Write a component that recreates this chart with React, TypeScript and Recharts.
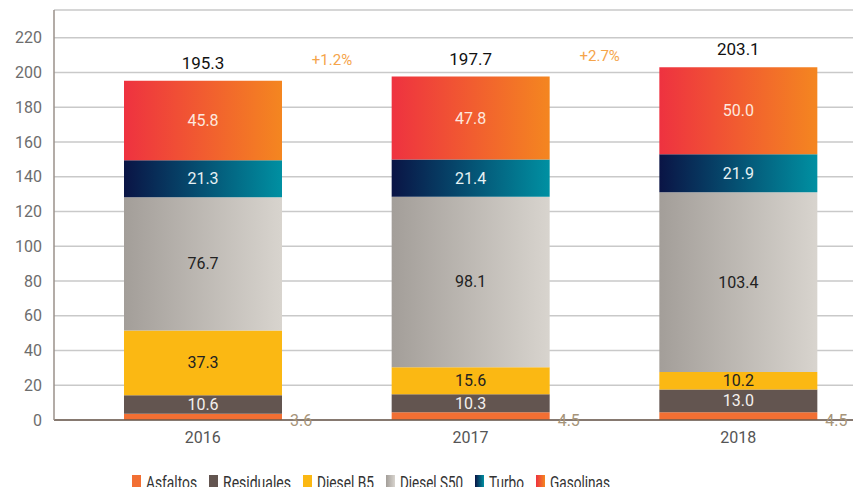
import React from "react";
import { BarChart, Bar, XAxis, YAxis, CartesianGrid, Legend, LabelList } from "recharts";

const years = ["2016", "2017", "2018"];
const asfaltos = [3.6, 4.5, 4.5];
const residuales = [10.6, 10.3, 13.0];
const dieselB5 = [37.3, 15.6, 10.2];
const dieselS50 = [76.7, 98.1, 103.4];
const turbo = [21.3, 21.4, 21.9];
const gasolinas = [45.8, 47.8, 50.0];
const totals = ["195.3", "197.7", "203.1"];
const growth = ["+1.2%", "+2.7%", ""];
const yTicks = [0, 20, 40, 60, 80, 100, 120, 140, 160, 180, 200, 220];
const seriesNames = ["Asfaltos", "Residuales", "Diesel B5", "Diesel S50", "Turbo", "Gasolinas"];

const data = years.map((y, i) => ({
  year: y,
  asfaltos: asfaltos[i],
  residuales: residuales[i],
  dieselB5: dieselB5[i],
  dieselS50: dieselS50[i],
  turbo: turbo[i],
  gasolinas: gasolinas[i],
  total: totals[i],
  growth: growth[i],
}));

const FONT = "Roboto, 'DejaVu Sans', sans-serif";

// legend layout (style only)
const legendFills = ["#f26f33", "#635550", "#fbb813", "url(#lgS50)", "url(#lgTurbo)", "url(#lgGas)"];
const legendTextWidths = [51, 68, 57, 63, 35, 60];
const legendGap = 12;
const legendIcon = 9;
const legendStart = 132;

const renderLegend = () => {
  let x = legendStart;
  const items = seriesNames.map((name, i) => {
    const ix = x;
    const tx = ix + legendIcon + 5;
    x = tx + legendTextWidths[i] + legendGap;
    return (
      <g key={name}>
        <rect x={ix} y={25} width={legendIcon} height={13} fill={legendFills[i]} />
        <text x={tx} y={32} dominantBaseline="central" fontSize={18} fontFamily={FONT} fill="#333" textLength={legendTextWidths[i]} lengthAdjust="spacingAndGlyphs">
          {name}
        </text>
      </g>
    );
  });
  return (
    <svg width={861} height={45} style={{ display: "block" }}>
      <defs>
        <linearGradient id="lgS50" x1="0" y1="0" x2="1" y2="0">
          <stop offset="0%" stopColor="#a39e99" />
          <stop offset="100%" stopColor="#d8d4ce" />
        </linearGradient>
        <linearGradient id="lgTurbo" x1="0" y1="0" x2="1" y2="0">
          <stop offset="0%" stopColor="#0a1445" />
          <stop offset="100%" stopColor="#0090a2" />
        </linearGradient>
        <linearGradient id="lgGas" x1="0" y1="0" x2="1" y2="0">
          <stop offset="0%" stopColor="#ee3240" />
          <stop offset="100%" stopColor="#f48620" />
        </linearGradient>
      </defs>
      {items}
    </svg>
  );
};

const makeCenterLabel = (color: string) => (props: any) => {
  const { x, y, width, height, value } = props;
  return (
    <text x={x + width / 2} y={y + height / 2} textAnchor="middle" dominantBaseline="central" fill={color} fontSize={16} fontFamily={FONT}>
      {Number(value).toFixed(1)}
    </text>
  );
};

const asfaltosLabel = (props: any) => {
  const { x, y, width, height, value } = props;
  return (
    <text x={x + width + 8} y={y + height} textAnchor="start" dominantBaseline="central" fill="#a69479" fontSize={16} fontFamily={FONT}>
      {Number(value).toFixed(1)}
    </text>
  );
};

const topLabel = (props: any) => {
  const { x, y, width, index } = props;
  const t = totals[index];
  const g = growth[index];
  return (
    <g>
      <text x={x + width / 2} y={y - 18} textAnchor="middle" dominantBaseline="central" fill="#111" fontSize={17} fontFamily={FONT}>
        {t}
      </text>
      {g ? (
        <text x={x + width + 50} y={y - 21} textAnchor="middle" dominantBaseline="central" fill="#f5a44a" fontSize={15} fontFamily={FONT}>
          {g}
        </text>
      ) : null}
    </g>
  );
};

export default function App() {
  return (
    <div style={{ margin: -8, width: 861, height: 495, overflow: "hidden", position: "relative" }}>
      <BarChart width={874} height={495} data={data} margin={{ top: 10, right: 2, left: 0, bottom: 0 }}>
        <defs>
          <linearGradient id="gS50" x1="0" y1="0" x2="1" y2="0">
            <stop offset="0%" stopColor="#a39e99" />
            <stop offset="100%" stopColor="#d8d4ce" />
          </linearGradient>
          <linearGradient id="gTurbo" x1="0" y1="0" x2="1" y2="0">
            <stop offset="0%" stopColor="#0a1445" />
            <stop offset="100%" stopColor="#0090a2" />
          </linearGradient>
          <linearGradient id="gGas" x1="0" y1="0" x2="1" y2="0">
            <stop offset="0%" stopColor="#ee3240" />
            <stop offset="100%" stopColor="#f48620" />
          </linearGradient>
        </defs>
        <text x={657} y={3} textAnchor="start" fill="#555" fontSize={21} fontFamily={FONT}>
          Miles de barriles día
        </text>
        <CartesianGrid vertical={false} stroke="#c9c9c9" strokeWidth={1.5} />
        <XAxis
          dataKey="year"
          height={30}
          padding={{ left: 15, right: 0 }}
          tickLine={false}
          tickMargin={6}
          axisLine={{ stroke: "#6b5a4e", strokeWidth: 1.5 }}
          tick={{ fill: "#555", fontSize: 16, fontFamily: FONT }}
        />
        <YAxis
          width={54}
          domain={[0, 236]}
          ticks={yTicks}
          tickLine={false}
          tickMargin={6}
          axisLine={{ stroke: "#9a918a", strokeWidth: 1.5 }}
          tick={{ fill: "#6d6d6d", fontSize: 16, fontFamily: FONT }}
          interval={0}
        />
        <Legend verticalAlign="bottom" height={45} content={renderLegend} />
        <Bar dataKey="asfaltos" name={seriesNames[0]} stackId="a" fill="#f26f33" barSize={158} isAnimationActive={false}>
          <LabelList dataKey="asfaltos" content={asfaltosLabel} />
        </Bar>
        <Bar dataKey="residuales" name={seriesNames[1]} stackId="a" fill="#635550" barSize={158} isAnimationActive={false}>
          <LabelList dataKey="residuales" content={makeCenterLabel("#f4f0ee")} />
        </Bar>
        <Bar dataKey="dieselB5" name={seriesNames[2]} stackId="a" fill="#fbb813" barSize={158} isAnimationActive={false}>
          <LabelList dataKey="dieselB5" content={makeCenterLabel("#222")} />
        </Bar>
        <Bar dataKey="dieselS50" name={seriesNames[3]} stackId="a" fill="url(#gS50)" barSize={158} isAnimationActive={false}>
          <LabelList dataKey="dieselS50" content={makeCenterLabel("#222")} />
        </Bar>
        <Bar dataKey="turbo" name={seriesNames[4]} stackId="a" fill="url(#gTurbo)" barSize={158} isAnimationActive={false}>
          <LabelList dataKey="turbo" content={makeCenterLabel("#e8f2f4")} />
        </Bar>
        <Bar dataKey="gasolinas" name={seriesNames[5]} stackId="a" fill="url(#gGas)" barSize={158} isAnimationActive={false}>
          <LabelList dataKey="gasolinas" content={makeCenterLabel("#fde8df")} />
          <LabelList dataKey="total" content={topLabel} />
        </Bar>
      </BarChart>
    </div>
  );
}
